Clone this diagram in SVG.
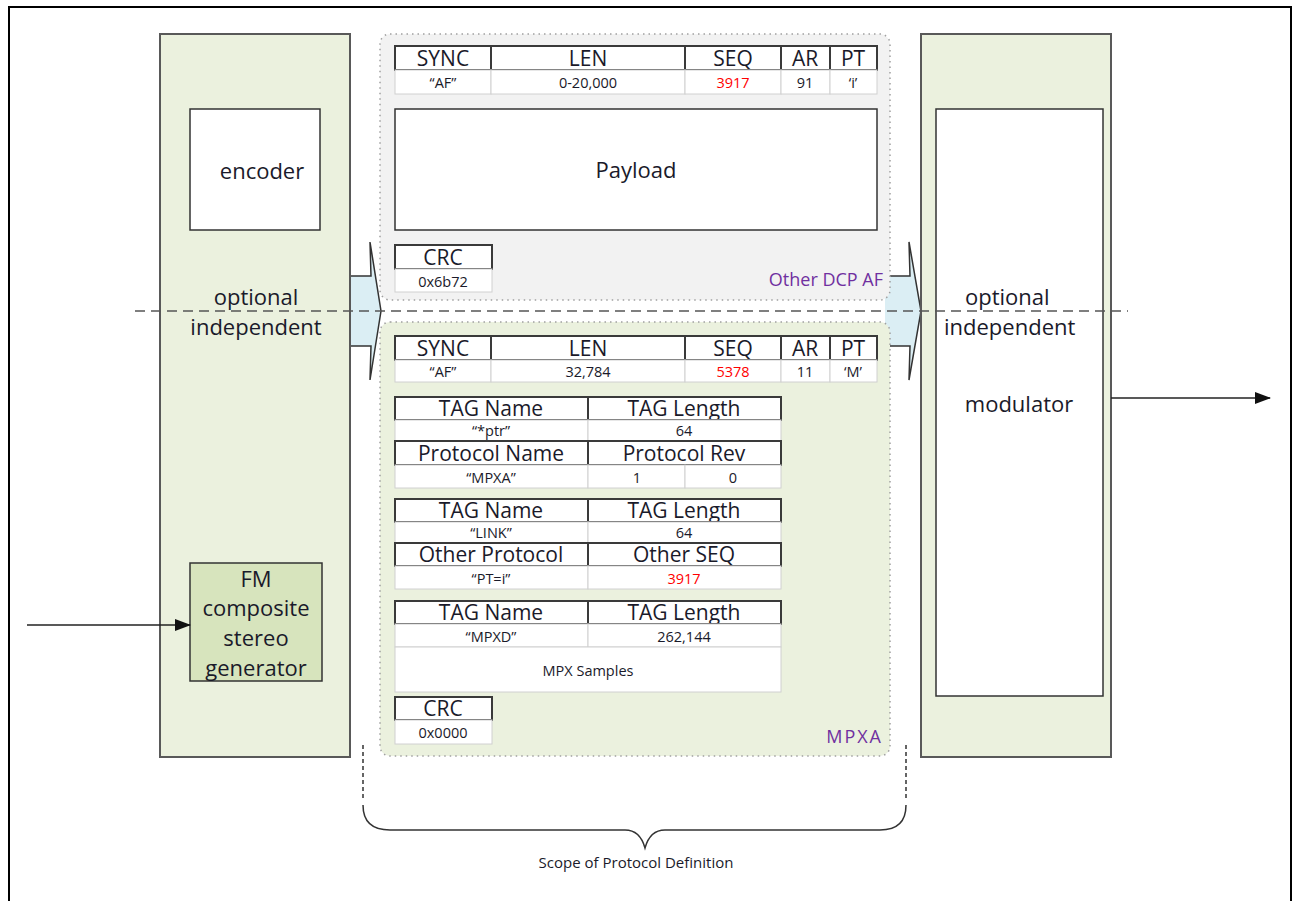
<svg xmlns="http://www.w3.org/2000/svg" width="1293" height="901" viewBox="0 0 1293 901">
<defs>
<marker id="ah" markerWidth="16" markerHeight="12" refX="15" refY="6" orient="auto" markerUnits="userSpaceOnUse">
<path d="M0,0 L16,6 L0,12 Z" fill="#111"/>
</marker>
<style>
text{font-family:"Open Sans",Lato,"Liberation Sans",sans-serif;fill:#1a1a2a;text-anchor:middle;dominant-baseline:central}
.panel{fill:#ebf1de;stroke:#595959;stroke-width:2}
.box{fill:#fff;stroke:#333;stroke-width:1.5}
.h{fill:#fff;stroke:#3a3a3a;stroke-width:2}
.v{fill:#fff;stroke:#d0d0d0;stroke-width:1}
.ht{font-size:21px}
.vt{font-size:14.5px}
.red{fill:#ff0000}
.big{font-size:22px}
.purple{fill:#7030a0;font-size:18px;text-anchor:end}
.dot{stroke:#a0a0a0;stroke-width:1.5;stroke-dasharray:1.5 4}
.barrow{fill:#dbeef4;stroke:#333;stroke-width:1.5}
</style>
</defs>
<rect x="9" y="7" width="1282" height="900" fill="#fff" stroke="#000" stroke-width="2"/>

<g id="block-arrows">
<path class="barrow" d="M340,276 L371,276 L370,242 L381,311 L370,380 L371,346 L340,346"/>
<path class="barrow" d="M885,276 L910,276 L909,242 L921,311 L909,380 L910,346 L885,346"/>
</g>

<g id="left-panel">
<rect class="panel" x="160" y="34" width="190" height="723"/>
</g>
<g id="encoder">
<rect class="box" x="190" y="109" width="130" height="121"/>
<text class="big" x="262" y="170">encoder</text>
</g>
<g id="left-optional">
<text class="big" x="256" y="296">optional</text>
<text class="big" x="256" y="326">independent</text>
</g>
<g id="fm-generator">
<rect x="190" y="563" width="132" height="118" fill="#d7e4bd" stroke="#333" stroke-width="1.5"/>
<text class="big" x="256" y="578">FM</text>
<text class="big" x="256" y="607">composite</text>
<text class="big" x="256" y="637">stereo</text>
<text class="big" x="256" y="667">generator</text>
</g>

<g id="right-panel">
<rect class="panel" x="921" y="34" width="190" height="723"/>
<rect class="box" x="936" y="109" width="167" height="587"/>
<text class="big" x="965" y="296" style="text-anchor:start">optional</text>
<text class="big" x="944" y="326" style="text-anchor:start">independent</text>
</g>
<g id="modulator">
<text class="big" x="1019" y="403">modulator</text>
</g>

<g id="other-dcp-af">
<rect class="dot" x="380" y="34" width="510" height="266" rx="10" fill="#f2f2f2"/>
<rect class="h" x="395" y="46" width="96" height="24"/><text class="ht" x="443" y="58">SYNC</text>
<rect class="h" x="491" y="46" width="194" height="24"/><text class="ht" x="588" y="58">LEN</text>
<rect class="h" x="685" y="46" width="96" height="24"/><text class="ht" x="733" y="58">SEQ</text>
<rect class="h" x="781" y="46" width="49" height="24"/><text class="ht" x="805" y="58">AR</text>
<rect class="h" x="830" y="46" width="47" height="24"/><text class="ht" x="853" y="58">PT</text>
<rect class="v" x="395" y="70" width="96" height="24"/><text class="vt" x="443" y="82">“AF”</text>
<rect class="v" x="491" y="70" width="194" height="24"/><text class="vt" x="588" y="82">0-20,000</text>
<rect class="v" x="685" y="70" width="96" height="24"/><text class="vt red" x="733" y="82">3917</text>
<rect class="v" x="781" y="70" width="49" height="24"/><text class="vt" x="805" y="82">91</text>
<rect class="v" x="830" y="70" width="47" height="24"/><text class="vt" x="853" y="82">‘i’</text>
<rect class="box" x="395" y="109" width="482" height="121"/>
<text x="636" y="169" style="font-size:22px">Payload</text>
<rect class="h" x="395" y="245" width="97" height="24"/><text class="ht" x="443" y="257">CRC</text>
<rect class="v" x="395" y="269" width="97" height="23"/><text class="vt" x="443" y="281">0x6b72</text>
<text class="purple" x="883" y="279">Other DCP AF</text>
</g>

<g id="mpxa">
<rect class="dot" x="380" y="322" width="510" height="434" rx="10" fill="#ebf1de"/>
<rect class="h" x="395" y="336" width="96" height="24"/><text class="ht" x="443" y="348">SYNC</text>
<rect class="h" x="491" y="336" width="194" height="24"/><text class="ht" x="588" y="348">LEN</text>
<rect class="h" x="685" y="336" width="96" height="24"/><text class="ht" x="733" y="348">SEQ</text>
<rect class="h" x="781" y="336" width="49" height="24"/><text class="ht" x="805" y="348">AR</text>
<rect class="h" x="830" y="336" width="47" height="24"/><text class="ht" x="853" y="348">PT</text>
<rect class="v" x="395" y="360" width="96" height="22"/><text class="vt" x="443" y="371">“AF”</text>
<rect class="v" x="491" y="360" width="194" height="22"/><text class="vt" x="588" y="371">32,784</text>
<rect class="v" x="685" y="360" width="96" height="22"/><text class="vt red" x="733" y="371">5378</text>
<rect class="v" x="781" y="360" width="49" height="22"/><text class="vt" x="805" y="371">11</text>
<rect class="v" x="830" y="360" width="47" height="22"/><text class="vt" x="853" y="371">‘M’</text>

<rect class="h" x="395" y="397" width="193" height="23"/><text class="ht" x="491" y="408">TAG Name</text>
<rect class="h" x="588" y="397" width="193" height="23"/><text class="ht" x="684" y="408">TAG Length</text>
<rect class="v" x="395" y="420" width="193" height="21"/><text class="vt" x="491" y="430">“*ptr”</text>
<rect class="v" x="588" y="420" width="193" height="21"/><text class="vt" x="684" y="430">64</text>
<rect class="h" x="395" y="441" width="193" height="24"/><text class="ht" x="491" y="453">Protocol Name</text>
<rect class="h" x="588" y="441" width="193" height="24"/><text class="ht" x="684" y="453">Protocol Rev</text>
<rect class="v" x="395" y="465" width="193" height="23"/><text class="vt" x="491" y="477">“MPXA”</text>
<rect class="v" x="588" y="465" width="97" height="23"/><text class="vt" x="637" y="477">1</text>
<rect class="v" x="685" y="465" width="96" height="23"/><text class="vt" x="733" y="477">0</text>

<rect class="h" x="395" y="499" width="193" height="23"/><text class="ht" x="491" y="510">TAG Name</text>
<rect class="h" x="588" y="499" width="193" height="23"/><text class="ht" x="684" y="510">TAG Length</text>
<rect class="v" x="395" y="522" width="193" height="21"/><text class="vt" x="491" y="532">“LINK”</text>
<rect class="v" x="588" y="522" width="193" height="21"/><text class="vt" x="684" y="532">64</text>
<rect class="h" x="395" y="543" width="193" height="23"/><text class="ht" x="491" y="554">Other Protocol</text>
<rect class="h" x="588" y="543" width="193" height="23"/><text class="ht" x="684" y="554">Other SEQ</text>
<rect class="v" x="395" y="566" width="193" height="23"/><text class="vt" x="491" y="578">“PT=i”</text>
<rect class="v" x="588" y="566" width="193" height="23"/><text class="vt red" x="684" y="578">3917</text>

<rect class="h" x="395" y="601" width="193" height="23"/><text class="ht" x="491" y="612">TAG Name</text>
<rect class="h" x="588" y="601" width="193" height="23"/><text class="ht" x="684" y="612">TAG Length</text>
<rect class="v" x="395" y="624" width="193" height="23"/><text class="vt" x="491" y="636">“MPXD”</text>
<rect class="v" x="588" y="624" width="193" height="23"/><text class="vt" x="684" y="636">262,144</text>
<rect class="v" x="395" y="647" width="386" height="45"/><text class="vt" x="588" y="670">MPX Samples</text>

<rect class="h" x="395" y="697" width="97" height="23"/><text class="ht" x="443" y="708">CRC</text>
<rect class="v" x="395" y="720" width="97" height="24"/><text class="vt" x="443" y="732">0x0000</text>
<text class="purple" x="883" y="736" style="letter-spacing:2px">MPXA</text>
</g>

<g id="scope">
<line x1="363" y1="745" x2="363" y2="800" stroke="#333" stroke-width="1.5" stroke-dasharray="4 3"/>
<line x1="906" y1="745" x2="906" y2="800" stroke="#333" stroke-width="1.5" stroke-dasharray="4 3"/>
<path d="M363,805 Q363,830 390,830 L625,830 Q640,830 645,848 Q650,830 665,830 L880,830 Q906,830 906,805" fill="none" stroke="#333" stroke-width="1.5"/>
<text x="636" y="862" style="font-size:15px">Scope of Protocol Definition</text>
</g>

<g id="connectors">
<line x1="135" y1="311" x2="1128" y2="311" stroke="#555" stroke-width="1.5" stroke-dasharray="10 6"/>
<line x1="27" y1="625" x2="190" y2="625" stroke="#222" stroke-width="1.5" marker-end="url(#ah)"/>
<line x1="1111" y1="398" x2="1270" y2="398" stroke="#222" stroke-width="1.5" marker-end="url(#ah)"/>
</g>
</svg>
